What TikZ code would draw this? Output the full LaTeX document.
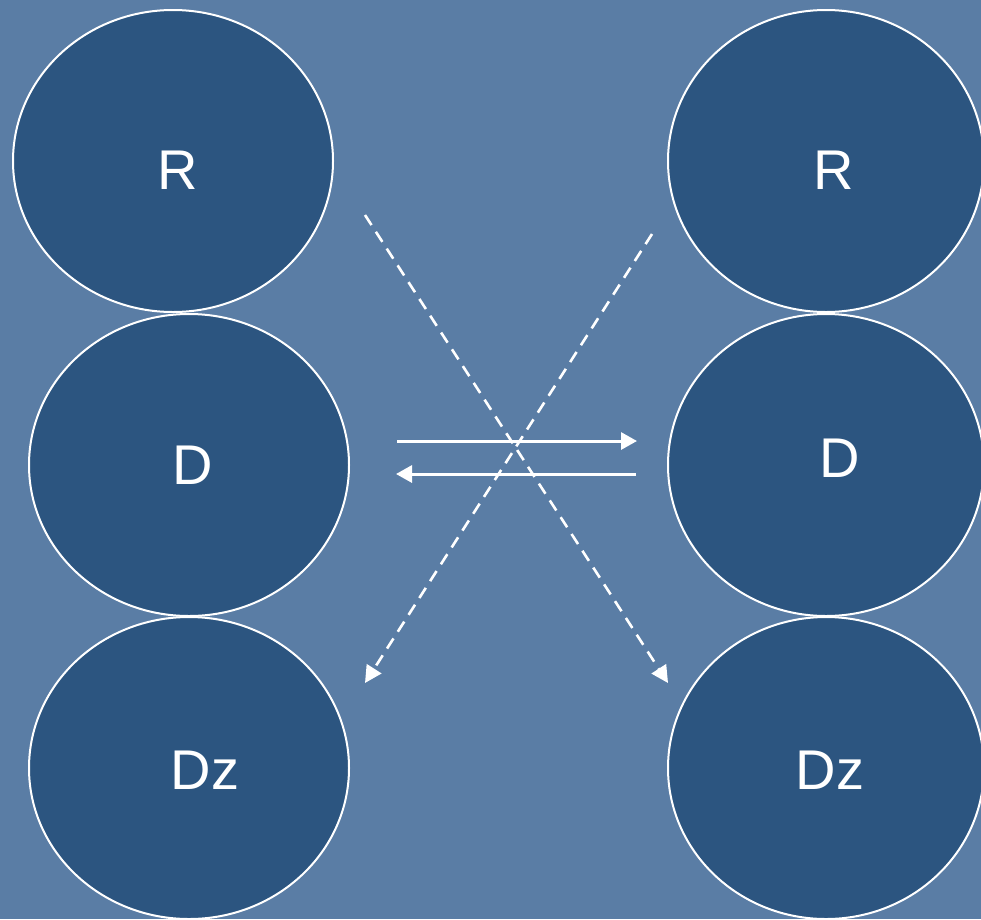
\documentclass[tikz,border=0pt]{standalone}
\usepackage{fontspec}
\setmainfont{Liberation Sans}
\usetikzlibrary{shapes.geometric,arrows.meta}
\definecolor{bgblue}{HTML}{5A7DA5}
\definecolor{ellblue}{HTML}{2C5580}
\begin{document}
\begin{tikzpicture}[x=1pt,y=-1pt,
  blob/.style={ellipse,draw=white,line width=2pt,fill=ellblue,inner sep=0pt,minimum width=320pt,minimum height=302pt},
  lbl/.style={text=white,font=\fontsize{56}{60}\selectfont,inner sep=0pt},
  solidarr/.style={draw=white,line width=3pt,-{Triangle[length=16pt,width=17pt]}},
  dasharr/.style={draw=white,line width=2.6pt,dash pattern=on 12pt off 8pt,-{Triangle[length=17pt,width=17pt]}}]
\fill[bgblue] (0,0) rectangle (981,919);
\useasboundingbox (0,0) rectangle (981,919);
\node[blob] (lR) at (173,161) {};
\node[blob] (lD) at (189,465) {};
\node[blob] (lDz) at (189,768) {};
\node[blob,minimum width=316pt] (rR) at (826,161) {};
\node[blob,minimum width=316pt] (rD) at (826,465) {};
\node[blob,minimum width=316pt] (rDz) at (826,768) {};
\node[lbl] (tlR) at (178,170) {R};
\node[lbl] (tlD) at (193,465) {D};
\node[lbl] (tlDz) at (205,770) {Dz};
\node[lbl] (trR) at (834,170) {R};
\node[lbl] (trD) at (840,458) {D};
\node[lbl] (trDz) at (830,770) {Dz};
\coordinate (a1s) at (397,441);
\coordinate (a1e) at (637,441);
\coordinate (a2s) at (636,474);
\coordinate (a2e) at (396,474);
\coordinate (d1s) at (365,215);
\coordinate (d1e) at (668,683);
\coordinate (d2s) at (652,234);
\coordinate (d2e) at (365,683);
\draw[solidarr] (a1s) -- (a1e);
\draw[solidarr] (a2s) -- (a2e);
\draw[dasharr] (d1s) -- (d1e);
\draw[dasharr] (d2s) -- (d2e);
\end{tikzpicture}
\end{document}
